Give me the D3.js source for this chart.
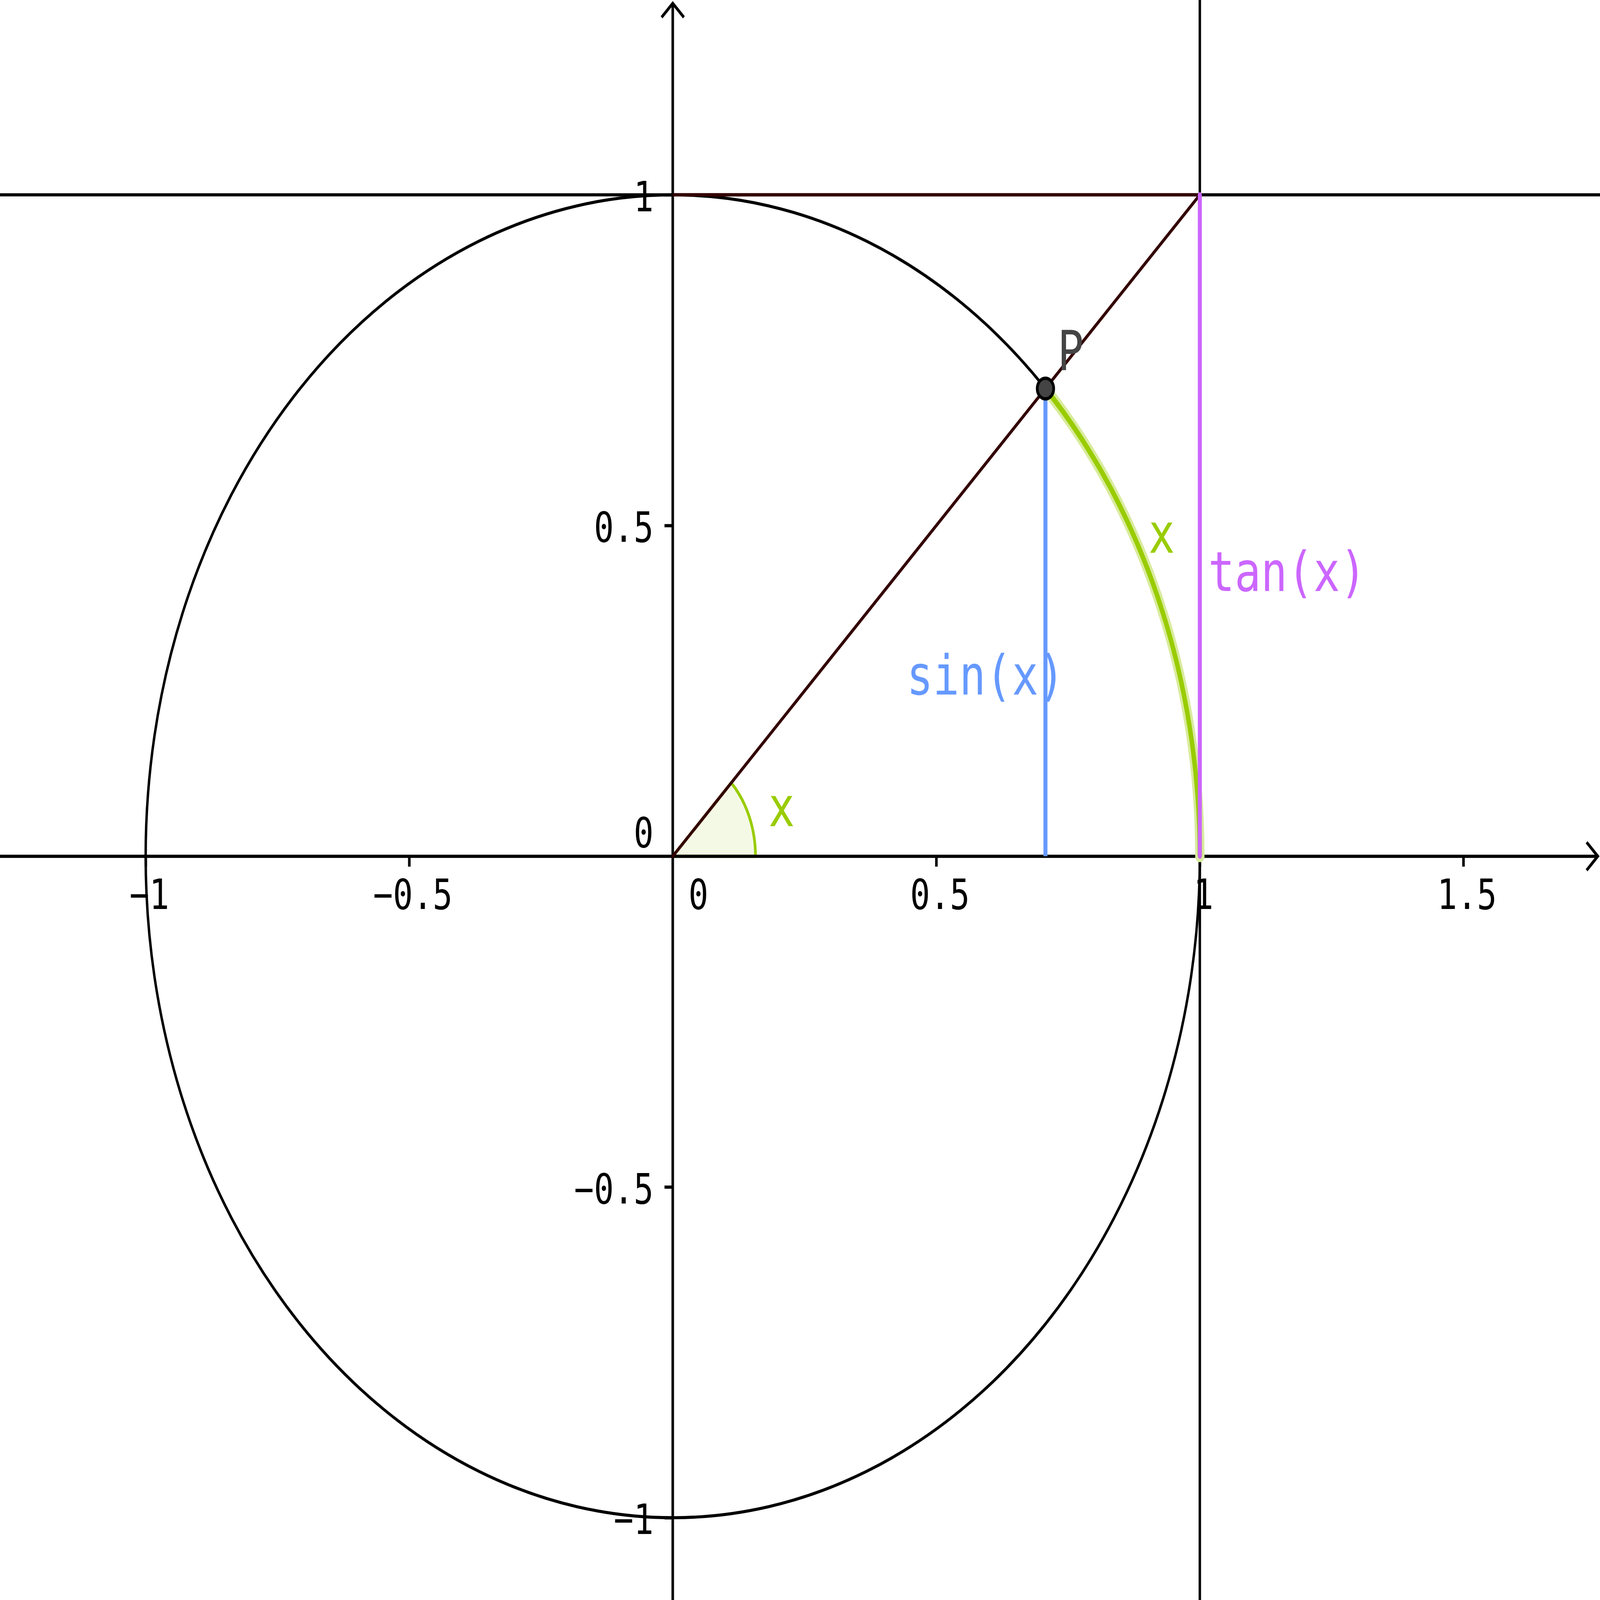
<!DOCTYPE html>
<html>
<head>
<meta charset="utf-8">
<script src="https://cdn.jsdelivr.net/npm/d3@7/dist/d3.min.js"></script>
<style>
  html, body { margin: 0; padding: 0; background: #fff; overflow: hidden; }
  svg { display: block; width: 100vw; height: 100vh; }
  text { font-family: 'DejaVu Sans Mono', monospace; }
</style>
</head>
<body>
<div id="chart"></div>
<script>
// values
const xTicks = [-1, -0.5, 0.5, 1, 1.5]
const yTicks = [-1, -0.5, 0.5, 1]
const angleDeg = 45          // angle x at the origin
const circleRadius = 1       // unit circle
const sectorRadius = 0.157   // small angle marker
const tangentX = 1           // vertical line x = 1
const tangentY = 1           // horizontal line y = 1
const labelTexts = ['sin(x)', 'tan(x)', 'x', 'x', 'P']

// layout (in the 7173 x 5716 frame of the reference)
const width = 7173
const height = 5716
const origin = { x: 3016, y: 3059 }
const unit = 2363

const colors = {
  axis: '#000',
  brown: '#330000',
  green: '#99cc00',
  halo: '#d9eb9e',
  sectorFill: '#f4f9e6',
  blue: '#6699ff',
  purple: '#cc66ff',
  point: '#444444'
}

const xs = d3.scaleLinear().domain([0, 1]).range([origin.x, origin.x + unit])
const ys = d3.scaleLinear().domain([0, 1]).range([origin.y, origin.y - unit])

// the frame is stretched to the window, so the page keeps the reference's frame
const svg = d3.select('#chart')
  .append('svg')
  .attr('viewBox', `0 0 ${width} ${height}`)
  .attr('preserveAspectRatio', 'none')

svg.append('rect')
  .attr('width', width)
  .attr('height', height)
  .attr('fill', '#fff')

const theta = angleDeg * Math.PI / 180
const px = circleRadius * Math.cos(theta)
const py = circleRadius * Math.sin(theta)

// angle sector at the origin
let sector = d3.path()
sector.moveTo(xs(0), ys(0))
sector.lineTo(xs(sectorRadius), ys(0))
sector.arc(xs(0), ys(0), xs(sectorRadius) - xs(0), 0, -theta, true)
sector.closePath()
svg.append('path')
  .attr('d', sector.toString())
  .attr('fill', colors.sectorFill)
  .attr('stroke', colors.green)
  .attr('stroke-width', 12)
  .attr('stroke-linejoin', 'round')

// axes with arrows
const axisW = 11.5
svg.append('line')
  .attr('x1', 0).attr('y1', ys(0))
  .attr('x2', width - 12).attr('y2', ys(0))
  .attr('stroke', colors.axis).attr('stroke-width', axisW)
svg.append('line')
  .attr('x1', xs(0)).attr('y1', height)
  .attr('x2', xs(0)).attr('y2', 14)
  .attr('stroke', colors.axis).attr('stroke-width', axisW)

const arrow = 50
const xTip = width - 10
svg.append('path')
  .attr('d', `M${xTip - arrow},${ys(0) - arrow}L${xTip},${ys(0)}L${xTip - arrow},${ys(0) + arrow}`)
  .attr('fill', 'none').attr('stroke', colors.axis).attr('stroke-width', axisW)
const yTip = 12
svg.append('path')
  .attr('d', `M${xs(0) - arrow},${yTip + arrow}L${xs(0)},${yTip}L${xs(0) + arrow},${yTip + arrow}`)
  .attr('fill', 'none').attr('stroke', colors.axis).attr('stroke-width', axisW)

// ticks and labels
const fmt = (d) => String(d).replace('-', '\u2212')

const xAxis = svg.append('g')
  .attr('transform', `translate(0,${ys(0)})`)
  .call(d3.axisBottom(xs).tickValues(xTicks).tickSize(37).tickFormat(fmt))
xAxis.select('.domain').remove()
xAxis.selectAll('line').attr('stroke', colors.axis).attr('stroke-width', axisW)
xAxis.selectAll('text')
  .attr('x', 16).attr('y', 189).attr('dy', null)
  .attr('fill', colors.axis)
  .attr('font-size', 148)
  .attr('font-family', 'DejaVu Sans Mono')

const yAxis = svg.append('g')
  .attr('transform', `translate(${xs(0)},0)`)
  .call(d3.axisLeft(ys).tickValues(yTicks).tickSize(37).tickFormat(fmt))
yAxis.select('.domain').remove()
yAxis.selectAll('line').attr('stroke', colors.axis).attr('stroke-width', axisW)
yAxis.selectAll('text')
  .attr('x', -86).attr('y', 58).attr('dy', null)
  .attr('fill', colors.axis)
  .attr('font-size', 148)
  .attr('font-family', 'DejaVu Sans Mono')

svg.append('text')
  .attr('x', xs(0) + 115).attr('y', ys(0) + 189)
  .attr('text-anchor', 'middle')
  .attr('font-size', 148)
  .text('0')
svg.append('text')
  .attr('x', xs(0) - 86).attr('y', ys(0) - 32)
  .attr('text-anchor', 'end')
  .attr('font-size', 148)
  .text('0')

// unit circle
svg.append('circle')
  .attr('cx', xs(0)).attr('cy', ys(0))
  .attr('r', xs(circleRadius) - xs(0))
  .attr('fill', 'none')
  .attr('stroke', '#000')
  .attr('stroke-width', 11)

// lines x = 1 and y = 1
svg.append('line')
  .attr('x1', 0).attr('y1', ys(tangentY))
  .attr('x2', width).attr('y2', ys(tangentY))
  .attr('stroke', '#000').attr('stroke-width', 11)
svg.append('line')
  .attr('x1', xs(tangentX)).attr('y1', 0)
  .attr('x2', xs(tangentX)).attr('y2', height)
  .attr('stroke', '#000').attr('stroke-width', 11)

// brown ray and top segment
svg.append('line')
  .attr('x1', xs(0)).attr('y1', ys(tangentY))
  .attr('x2', xs(tangentX)).attr('y2', ys(tangentY))
  .attr('stroke', colors.brown).attr('stroke-width', 12)
svg.append('line')
  .attr('x1', xs(0)).attr('y1', ys(0))
  .attr('x2', xs(tangentX)).attr('y2', ys(tangentY))
  .attr('stroke', colors.brown).attr('stroke-width', 12)
  .attr('stroke-linecap', 'round')

// arc x on the circle, highlighted
let arc = d3.path()
arc.moveTo(xs(circleRadius), ys(0))
arc.arc(xs(0), ys(0), xs(circleRadius) - xs(0), 0, -theta, true)
svg.append('path')
  .attr('d', arc.toString())
  .attr('fill', 'none')
  .attr('stroke', colors.halo)
  .attr('stroke-width', 42)
  .attr('stroke-linecap', 'round')
svg.append('path')
  .attr('d', arc.toString())
  .attr('fill', 'none')
  .attr('stroke', colors.green)
  .attr('stroke-width', 20)

// sin and tan segments
svg.append('line')
  .attr('x1', xs(px)).attr('y1', ys(0))
  .attr('x2', xs(px)).attr('y2', ys(py))
  .attr('stroke', colors.blue).attr('stroke-width', 18)
svg.append('line')
  .attr('x1', xs(tangentX)).attr('y1', ys(0))
  .attr('x2', xs(tangentX)).attr('y2', ys(Math.tan(theta)))
  .attr('stroke', colors.purple).attr('stroke-width', 18)
  .attr('stroke-linecap', 'round')

// point P
svg.append('circle')
  .attr('cx', xs(px)).attr('cy', ys(py))
  .attr('r', 37)
  .attr('fill', colors.point)
  .attr('stroke', '#000')
  .attr('stroke-width', 12)

// labels, positions in data units
const labelPos = [
  { x: 0.4439, y: 0.2446, color: colors.blue, anchor: 'start' },
  { x: 1.0161, y: 0.4012, color: colors.purple, anchor: 'start' },
  { x: 0.9276, y: 0.4587, color: colors.green, anchor: 'middle' },
  { x: 0.2065, y: 0.0457, color: colors.green, anchor: 'middle' },
  { x: 0.7300, y: 0.7355, color: colors.point, anchor: 'start' }
]
svg.selectAll('.label')
  .data(labelTexts)
  .enter()
  .append('text')
  .classed('label', true)
  .attr('x', (d, i) => xs(labelPos[i].x))
  .attr('y', (d, i) => ys(labelPos[i].y))
  .attr('fill', (d, i) => labelPos[i].color)
  .attr('text-anchor', (d, i) => labelPos[i].anchor)
  .attr('font-size', 196)
  .text((d) => d)
</script>
</body>
</html>
